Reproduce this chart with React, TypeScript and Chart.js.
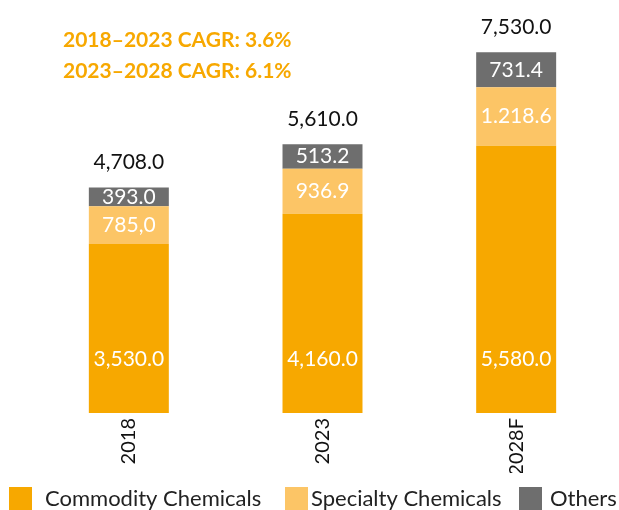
import React, { useEffect, useRef } from "react";
import { Chart, registerables } from "chart.js";

Chart.register(...registerables);

const categories = ["2018", "2023", "2028F"];
const seriesNames = ["Commodity Chemicals", "Specialty Chemicals", "Others"];
const commodity = [3530.0, 4160.0, 5580.0];
const specialty = [785.0, 936.9, 1218.6];
const others = [393.0, 513.2, 731.4];
const totals = [4708.0, 5610.0, 7530.0];
const commodityLabels = ["3,530.0", "4,160.0", "5,580.0"];
const specialtyLabels = ["785,0", "936.9", "1.218.6"];
const othersLabels = ["393.0", "513.2", "731.4"];
const totalLabels = ["4,708.0", "5,610.0", "7,530.0"];
const cagrLines = ["2018\u20132023 CAGR: 3.6%", "2023\u20132028 CAGR: 6.1%"];
const seriesColors = ["#F7A800", "#FCC566", "#6E6E6E"];
const cagrColor = "#F7A800";
const FONT = "Lato, 'Open Sans', sans-serif";

const labelPlugin = {
  id: "customLabels",
  afterDraw(chart: any) {
    const ctx = chart.ctx;
    const yScale = chart.scales.y;
    ctx.save();
    ctx.textAlign = "center";
    ctx.textBaseline = "middle";
    const segLabels = [commodityLabels, specialtyLabels, othersLabels];
    for (let d = 0; d < 3; d++) {
      const meta = chart.getDatasetMeta(d);
      meta.data.forEach((bar: any, i: number) => {
        ctx.fillStyle = "#FFFFFF";
        ctx.font = `21px ${FONT}`;
        const y = d === 0 ? bar.base - 54 : (bar.y + bar.base) / 2;
        ctx.fillText(segLabels[d][i], bar.x, y);
      });
    }
    const topMeta = chart.getDatasetMeta(2);
    topMeta.data.forEach((bar: any, i: number) => {
      ctx.fillStyle = "#111111";
      ctx.font = `21px ${FONT}`;
      const yTop = yScale.getPixelForValue(totals[i]);
      ctx.fillText(totalLabels[i], bar.x, yTop - 25);
    });
    // CAGR text
    ctx.textAlign = "left";
    ctx.fillStyle = cagrColor;
    ctx.font = `bold 21px ${FONT}`;
    ctx.fillText(cagrLines[0], 63, 40);
    ctx.fillText(cagrLines[1], 63, 71);
    // Legend
    const legendX = [9, 285, 519];
    const textX = [45, 311, 550];
    ctx.font = `22px ${FONT}`;
    for (let k = 0; k < 3; k++) {
      ctx.fillStyle = seriesColors[k];
      ctx.fillRect(legendX[k], 487, 23, 23);
      ctx.fillStyle = "#222222";
      ctx.fillText(seriesNames[k], textX[k], 499);
    }
    ctx.restore();
  },
};

export default function App() {
  const ref = useRef<HTMLCanvasElement>(null);
  useEffect(() => {
    const chart = new Chart(ref.current as HTMLCanvasElement, {
      type: "bar",
      data: {
        labels: categories,
        datasets: [
          { label: seriesNames[0], data: commodity, backgroundColor: seriesColors[0] },
          { label: seriesNames[1], data: specialty, backgroundColor: seriesColors[1] },
          { label: seriesNames[2], data: others, backgroundColor: seriesColors[2] },
        ],
      },
      options: {
        animation: false,
        responsive: false,
        maintainAspectRatio: false,
        layout: { padding: { top: 1, left: 32, right: 6, bottom: 37 } },
        datasets: { bar: { categoryPercentage: 1, barPercentage: 0.413 } },
        plugins: { legend: { display: false }, tooltip: { enabled: false } },
        scales: {
          x: {
            stacked: true,
            grid: { display: false, drawTicks: false },
            border: { display: false },
            ticks: {
              minRotation: 90,
              maxRotation: 90,
              padding: 5,
              color: "#111111",
              font: { family: FONT, size: 20 },
            },
            afterFit(scale: any) {
              scale.height = 60;
            },
          },
          y: {
            stacked: true,
            display: false,
            min: 0,
            max: 8600,
          },
        },
      },
      plugins: [labelPlugin],
    });
    return () => chart.destroy();
  }, []);
  return (
    <div style={{ position: "fixed", left: 0, top: 0, width: 619, height: 510, background: "#fff" }}>
      <canvas ref={ref} width={619} height={510} style={{ width: 619, height: 510 }} />
    </div>
  );
}
